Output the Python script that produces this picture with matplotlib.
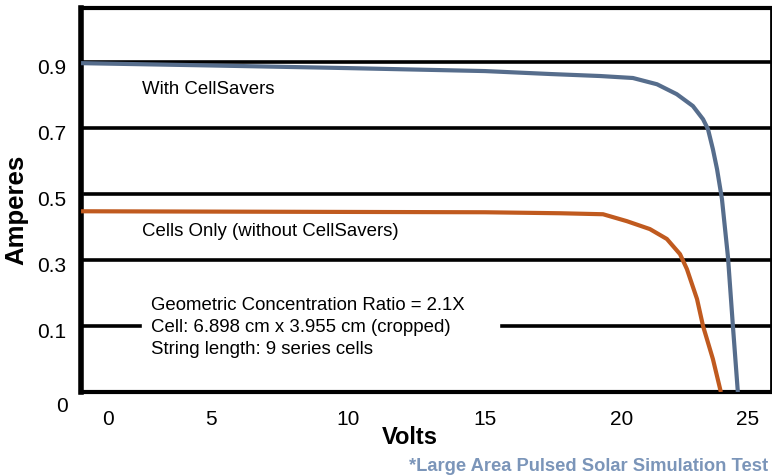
import matplotlib
matplotlib.use("Agg")
import matplotlib.pyplot as plt
import matplotlib.transforms as mtrans

# I-V curves (volts, amperes on the drawn grid)
volts_with = [0.26, 5.0, 10.0, 15.0, 17.4, 19.2, 20.4, 21.28, 22.0, 22.59, 22.96,
              23.14, 23.32, 23.47, 23.65, 23.87, 24.05, 24.23]
amps_with = [0.997, 0.990, 0.982, 0.973, 0.964, 0.958, 0.952, 0.933, 0.903, 0.867,
             0.827, 0.797, 0.736, 0.676, 0.585, 0.409, 0.200, 0.0]

volts_only = [0.26, 5.0, 10.0, 15.0, 17.74, 19.31, 20.18, 21.02, 21.64, 22.12, 22.37,
              22.74, 22.96, 23.32, 23.61]
amps_only = [0.548, 0.547, 0.546, 0.545, 0.542, 0.539, 0.518, 0.494, 0.464, 0.418,
             0.373, 0.282, 0.200, 0.100, 0.0]

grid_values = [0.2, 0.4, 0.6, 0.8, 1.0]
grid_labels = ["0.1", "0.3", "0.5", "0.7", "0.9"]
x_ticks = [5, 10, 15, 20]
x_labels = ["0", "5", "10", "15", "20", "25"]

plt.rcParams["font.family"] = ["Liberation Sans", "DejaVu Sans"]

fig = plt.figure(figsize=(7.72, 4.77), dpi=100)
ax = fig.add_axes([0.105, 0.176, 0.8937, 0.805])
ax.set_xlim(0.26, 25.44)
ax.set_ylim(0, 1.164)

# horizontal grid, the 0.1 line is broken around the note
for v in grid_values:
    if v == grid_values[0]:
        ax.axhline(v, xmin=0, xmax=0.085, color="black", lw=2.6, zorder=1)
        ax.axhline(v, xmin=0.61, xmax=1, color="black", lw=2.6, zorder=1)
    elif v == grid_values[2]:
        ax.axhline(v, xmin=0.006, xmax=1, color="black", lw=2.6, zorder=1)
    else:
        ax.axhline(v, color="black", lw=2.6, zorder=1)

ax.plot(volts_with, amps_with, color="#566d8c", lw=3, solid_capstyle="butt",
        solid_joinstyle="round", zorder=3)
ax.plot(volts_only, amps_only, color="#c05a1f", lw=3, solid_capstyle="butt",
        solid_joinstyle="round", zorder=3)

for s in ax.spines.values():
    s.set_linewidth(3)
ax.spines["left"].set_linewidth(4)
ax.spines["right"].set_linewidth(2)

ax.set_xticks([1.24] + x_ticks + [24.6])
ax.set_xticklabels(x_labels, fontsize=15)
ax.set_yticks(grid_values)
ax.set_yticklabels(grid_labels, fontsize=15)
ax.tick_params(axis="x", length=0, pad=12)
ax.tick_params(axis="y", length=0, pad=11)
off = mtrans.ScaledTranslation(0, -3 / 100, fig.dpi_scale_trans)
for lab in ax.get_yticklabels():
    lab.set_transform(lab.get_transform() + off)
ax.text(-0.019, -0.042, "0", transform=ax.get_yaxis_transform(), ha="right", va="center",
        fontsize=15)

ax.text(2.5, 0.92, "With CellSavers", fontsize=13.4, va="center")
ax.text(2.5, 0.49, "Cells Only (without CellSavers)", fontsize=13.4, va="center")
ax.text(2.8, 0.2,
        "Geometric Concentration Ratio = 2.1X\nCell: 6.898 cm x 3.955 cm (cropped)\nString length: 9 series cells",
        fontsize=13.4, va="center", linespacing=1.38)

fig.text(0.021, 0.56, "Amperes", fontsize=18.5, fontweight="bold", rotation=90,
         ha="center", va="center")
fig.text(0.531, 0.083, "Volts", fontsize=17, fontweight="bold", ha="center", va="center")
fig.text(0.995, 0.021, "*Large Area Pulsed Solar Simulation Test", fontsize=13.2,
         fontweight="bold", color="#7b95b9", ha="right", va="center")

fig.savefig("out.png", dpi=100)
